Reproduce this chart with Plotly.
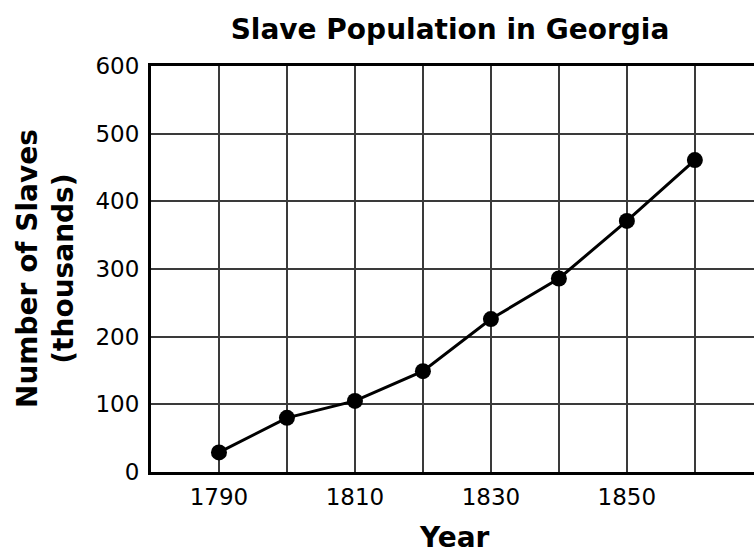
import plotly.graph_objects as go

years = [1790, 1800, 1810, 1820, 1830, 1840, 1850, 1860]
slaves_thousands = [29, 80, 105, 149, 226, 286, 371, 461]
x_tick_vals = [1790, 1800, 1810, 1820, 1830, 1840, 1850, 1860]
x_tick_text = ["1790", "", "1810", "", "1830", "", "1850", ""]
y_tick_vals = [0, 100, 200, 300, 400, 500, 600]

FONT = "DejaVu Sans"

fig = go.Figure()
fig.add_trace(go.Scatter(
    x=years, y=slaves_thousands, mode="lines+markers",
    line=dict(color="black", width=3),
    marker=dict(color="black", size=16),
    showlegend=False, cliponaxis=False,
))

fig.update_layout(
    width=754, height=553,
    margin=dict(l=151, r=0, t=66, b=81, autoexpand=False),
    paper_bgcolor="white", plot_bgcolor="white",
    title=dict(text="<b>Slave Population in Georgia</b>",
               font=dict(family=FONT, size=28, color="black"),
               x=(450 / 754), xref="container", xanchor="center",
               y=1 - 29 / 553, yref="container", yanchor="middle"),
    font=dict(family=FONT, color="black"),
)

fig.update_xaxes(
    range=[1780, 1868.7],
    tickvals=x_tick_vals, ticktext=x_tick_text,
    tickfont=dict(family=FONT, size=23, color="black"),
    ticks="", ticklen=0, ticklabelstandoff=2,
    showgrid=True, gridcolor="#3a3a3a", gridwidth=1.6,
    showline=True, linecolor="black", linewidth=3, mirror=True,
    zeroline=False, automargin=False,
)
fig.update_yaxes(
    range=[0, 600],
    tickvals=y_tick_vals,
    tickfont=dict(family=FONT, size=23, color="black"),
    ticks="", ticklen=0, ticklabelstandoff=4,
    showgrid=True, gridcolor="#3a3a3a", gridwidth=1.6,
    showline=True, linecolor="black", linewidth=3, mirror=False,
    zeroline=False, automargin=False,
)

fig.add_annotation(
    text="<b>Year</b>", xref="paper", yref="paper",
    x=(454 - 151) / (754 - 151), y=-(537 - 472) / (472 - 66),
    xanchor="center", yanchor="middle", showarrow=False,
    font=dict(family=FONT, size=28, color="black"),
)
fig.add_annotation(
    text="<b>Number of Slaves<br>(thousands)</b>", xref="paper", yref="paper",
    x=-(151 - 45) / (754 - 151), y=0.5,
    xanchor="center", yanchor="middle", showarrow=False, textangle=-90,
    font=dict(family=FONT, size=28, color="black"),
)

fig.write_html(
    "out.html",
    config={"displayModeBar": False},
    post_script="document.body.style.margin='0';document.body.style.overflow='hidden';",
)
